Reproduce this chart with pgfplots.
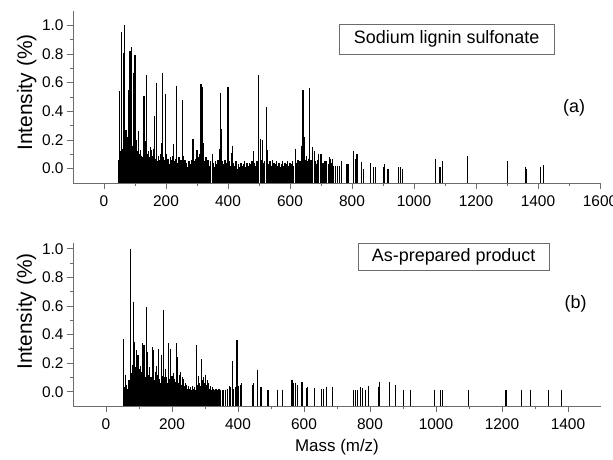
\documentclass[border=0pt]{standalone}
\usepackage{fontspec}
\setmainfont{Liberation Sans}
\usepackage{pgfplots}
\pgfplotsset{compat=1.18}

% each peak is drawn as a line from the bottom of the axis (-0.1) up to its intensity
\pgfplotsset{
  msaxis/.style={
    scale only axis, anchor=south west, clip=false,
    axis x line=bottom, axis y line=left,
    axis line style={-, draw=gray!85!black, line width=0.8bp},
    every tick/.style={draw=gray!85!black, line width=0.8bp},
    tick align=outside, major tick length=6bp, minor tick length=3bp,
    minor x tick num=1, minor y tick num=1,
    ytick={0,0.2,...,1.0}, ymin=-0.1,
    /pgf/number format/assume math mode=true,
    /pgf/number format/1000 sep={},
    tick label style={font=\fontsize{15.5}{17}\selectfont},
    xticklabel style={yshift=-3bp},
    yticklabel style={/pgf/number format/.cd, fixed, fixed zerofill, precision=1},
    ylabel={Intensity (\%)},
    ylabel style={font=\fontsize{21}{24}\selectfont, anchor=center},
  },
  peaks/.style={draw=none, mark=none, forget plot,
    error bars/.cd, y dir=minus, y explicit, error mark=none,
    error bar style={draw=black, line width=#1}},
}

\begin{document}
\begin{tikzpicture}
\useasboundingbox (0,0) rectangle (613bp,460bp);

% (a) sodium lignin sulfonate
\begin{axis}[msaxis, at={(73bp,277bp)}, width=527bp, height=172bp,
  xmin=-100, xmax=1600, ymax=1.1, xtick={0,200,...,1600},
  ylabel style={at={(axis description cs:-0.088,0.526)}}]
\addplot[peaks=1.5bp] table[row sep=\\, x=m, y=i, y error expr=\thisrow{i}+0.1] {
m i\\
48 0.06\\ 52 0.12\\ 55 0.10\\ 58 0.14\\ 61 0.08\\ 64 0.13\\ 68 0.11\\ 72 0.09\\ 74 0.15\\ 78 0.12\\
81 0.06\\ 85 0.13\\ 88 0.10\\ 91 0.16\\ 94 0.12\\ 98 0.09\\ 102 0.14\\ 105 0.07\\ 108 0.12\\ 111 0.05\\
114 0.10\\ 117 0.06\\ 120 0.09\\ 123 0.03\\ 126 0.08\\ 130 0.05\\ 134 0.11\\ 138 0.07\\ 141 0.10\\ 144 0.12\\
147 0.08\\ 150 0.11\\ 153 0.13\\ 156 0.09\\ 159 0.14\\ 162 0.10\\ 166 0.07\\ 170 0.11\\ 173 0.05\\ 176 0.09\\
180 0.06\\ 183 0.10\\ 187 0.04\\ 192 0.08\\ 195 0.06\\ 200 0.10\\ 203 0.05\\ 207 0.07\\ 210 0.03\\ 214 0.08\\
218 0.06\\ 221 0.09\\ 228 0.05\\ 231 0.07\\ 238 0.04\\ 242 0.08\\ 246 0.03\\ 249 0.06\\ 254 0.05\\ 259 0.02\\
262 0.06\\ 266 0.04\\ 270 0.01\\ 274 0.05\\ 278 0.03\\ 282 0.06\\ 285 0.02\\ 291 0.05\\ 295 0.07\\ 298 0.04\\
303 0.08\\ 306 0.06\\ 310 0.10\\ 316 0.09\\ 320 0.07\\ 325 0.05\\ 329 0.08\\ 332 0.03\\ 336 0.06\\ 340 0.02\\
344 0.05\\ 352 0.04\\ 356 0.01\\ 360 0.05\\ 364 0.03\\ 368 0.06\\ 382 0.05\\ 386 0.03\\ 390 0.06\\ 394 0.02\\
397 0.04\\ 404 0.05\\ 407 0.02\\ 413 0.06\\ 418 0.04\\ 422 0.02\\ 426 0.05\\ 430 0.00\\ 434 0.03\\ 438 0.01\\
442 0.04\\ 446 0.02\\ 450 0.03\\ 454 0.05\\ 458 0.01\\ 462 0.04\\ 466 0.02\\ 470 0.04\\ 474 0.03\\ 478 0.05\\
485 0.04\\ 489 0.02\\ 493 0.05\\ 496 0.03\\ 507 0.06\\ 514 0.04\\ 518 0.05\\ 532 0.03\\ 536 0.05\\ 540 0.02\\
544 0.06\\ 548 0.04\\ 552 0.03\\ 556 0.05\\ 560 0.02\\ 564 0.04\\ 568 0.01\\ 572 0.03\\ 576 0.05\\ 580 0.02\\
584 0.04\\ 588 0.03\\ 592 0.05\\ 596 0.02\\ 600 0.04\\ 604 0.03\\ 608 0.05\\ 612 0.02\\ 621 0.04\\ 625 0.06\\
629 0.03\\ 633 0.05\\ 640 0.08\\ 650 0.06\\ 653 0.09\\ 656 0.05\\ 659 0.07\\ 667 0.06\\ 670 0.04\\ 683 0.05\\
686 0.03\\ 690 0.06\\ 707 0.04\\ 714 0.03\\ 724 0.03\\ 735 0.04\\ 740 0.02\\
};
\addplot[peaks=1.1bp] table[row sep=\\, x=m, y=i, y error expr=\thisrow{i}+0.1] {
m i\\
50 0.54\\ 56 0.95\\ 64 0.81\\ 67 1.00\\ 71 0.27\\ 76 0.22\\ 79 0.55\\ 84 0.82\\ 89 0.85\\ 95 0.67\\
97 0.52\\ 100 0.79\\ 106 0.20\\ 112 0.26\\ 118 0.13\\ 129 0.51\\ 133 0.19\\ 137 0.65\\ 150 0.15\\ 164 0.37\\
168 0.60\\ 186 0.18\\ 190 0.67\\ 198 0.52\\ 225 0.17\\ 234 0.58\\ 252 0.48\\ 256 0.09\\ 287 0.21\\ 300 0.13\\
313 0.59\\ 318 0.57\\ 322 0.18\\ 349 0.10\\ 372 0.14\\ 375 0.53\\ 379 0.28\\ 400 0.57\\ 410 0.11\\ 415 0.16\\
481 0.12\\ 499 0.65\\ 504 0.21\\ 510 0.20\\ 523 0.43\\ 528 0.13\\ 617 0.14\\ 637 0.16\\ 642 0.55\\ 644 0.29\\
647 0.22\\ 663 0.56\\ 674 0.15\\ 679 0.12\\ 693 0.10\\ 697 0.10\\ 701 0.10\\ 711 0.056\\ 716 0.056\\ 727 0.08\\
732 0.07\\ 738 0.07\\ 747 0.02\\ 754 0.02\\ 760 0.02\\ 767 0.056\\ 784 0.03\\ 790 0.03\\ 806 0.126\\ 812 0.07\\
816 0.10\\ 832 0.045\\ 836 0.00\\ 860 0.037\\ 868 0.01\\ 877 0.01\\ 902 0.01\\ 906 0.03\\ 916 0.00\\ 949 0.01\\
955 0.01\\ 964 0.00\\ 1069 0.07\\ 1084 0.01\\ 1092 0.055\\ 1174 0.09\\ 1303 0.05\\ 1360 0.015\\ 1363 0.00\\ 1408 0.015\\
1417 0.025\\
};
\node[draw=gray!85!black, line width=0.8bp, minimum width=215bp, minimum height=30bp, inner sep=0pt,
  font=\fontsize{18}{20}\selectfont] at (axis description cs:0.709,0.836) {Sodium lignin sulfonate};
\node[font=\fontsize{18}{20}\selectfont] at (axis description cs:0.951,0.436) {(a)};
\end{axis}

% (b) as-prepared product
\begin{axis}[msaxis, at={(73bp,54bp)}, width=528bp, height=163bp,
  xmin=-100, xmax=1500, ymax=1.04, xtick={0,200,...,1400},
  ylabel style={at={(axis description cs:-0.088,0.58)}},
  xlabel={Mass (m/z)},
  xlabel style={font=\fontsize{17}{20}\selectfont, anchor=center, at={(axis description cs:0.50,-0.25)}}]
\addplot[peaks=1.5bp] table[row sep=\\, x=m, y=i, y error expr=\thisrow{i}+0.1] {
m i\\
56 0.03\\ 60 0.05\\ 62 0.02\\ 66 0.01\\ 70 0.08\\ 72 0.05\\ 76 0.10\\ 79 0.07\\ 82 0.15\\ 85 0.12\\
89 0.09\\ 91 0.17\\ 94 0.11\\ 96 0.08\\ 99 0.13\\ 103 0.10\\ 107 0.06\\ 109 0.14\\ 112 0.09\\ 114 0.12\\
117 0.07\\ 120 0.10\\ 124 0.12\\ 126 0.06\\ 129 0.09\\ 131 0.12\\ 135 0.07\\ 137 0.10\\ 139 0.05\\ 142 0.11\\
147 0.08\\ 151 0.10\\ 155 0.06\\ 157 0.12\\ 162 0.09\\ 164 0.06\\ 169 0.11\\ 171 0.07\\ 176 0.10\\ 178 0.05\\
182 0.08\\ 186 0.06\\ 191 0.09\\ 193 0.05\\ 198 0.08\\ 202 0.06\\ 206 0.09\\ 209 0.05\\ 211 0.07\\ 215 0.10\\
220 0.06\\ 224 0.08\\ 228 0.05\\ 233 0.07\\ 238 0.04\\ 244 0.05\\ 247 0.02\\ 250 0.04\\ 253 0.02\\ 256 0.03\\
259 0.01\\ 262 0.04\\ 265 0.02\\ 268 0.03\\ 271 0.01\\ 277 0.05\\ 279 0.03\\ 284 0.06\\ 286 0.04\\ 292 0.05\\
294 0.08\\ 299 0.06\\ 304 0.05\\ 309 0.03\\ 314 0.02\\ 317 0.04\\ 320 0.01\\ 323 0.03\\ 326 0.02\\ 330 0.01\\
334 0.02\\ 338 0.01\\ 342 0.02\\ 346 0.01\\ 355 0.01\\ 362 0.01\\ 368 0.02\\ 378 0.03\\ 387 0.02\\ 392 0.03\\
};
\addplot[peaks=1.1bp] table[row sep=\\, x=m, y=i, y error expr=\thisrow{i}+0.1] {
m i\\
52 0.06\\ 54 0.37\\ 59 0.12\\ 64 0.02\\ 74 1.00\\ 77 0.13\\ 80 0.19\\ 83 0.63\\ 87 0.35\\ 92 0.29\\
97 0.26\\ 101 0.16\\ 105 0.18\\ 110 0.34\\ 115 0.33\\ 118 0.20\\ 122 0.59\\ 127 0.28\\ 133 0.17\\ 140 0.31\\
145 0.29\\ 149 0.14\\ 153 0.18\\ 160 0.30\\ 167 0.26\\ 173 0.57\\ 180 0.16\\ 184 0.10\\ 189 0.34\\ 196 0.30\\
200 0.11\\ 204 0.13\\ 213 0.34\\ 218 0.24\\ 222 0.12\\ 226 0.14\\ 231 0.10\\ 236 0.09\\ 241 0.06\\ 274 0.325\\
281 0.11\\ 289 0.23\\ 296 0.10\\ 302 0.12\\ 307 0.08\\ 311 0.06\\ 373 0.04\\ 383 0.215\\ 397 0.36\\ 402 0.04\\
407 0.05\\ 410 0.06\\ 445 0.05\\ 448 0.06\\ 460 0.155\\ 468 0.03\\ 471 0.03\\ 491 0.015\\ 521 0.015\\ 535 0.015\\
561 0.08\\ 565 0.085\\ 568 0.06\\ 574 0.06\\ 581 0.05\\ 594 0.07\\ 607 0.025\\ 611 0.035\\ 631 0.025\\ 654 0.02\\
659 0.02\\ 669 0.035\\ 687 0.035\\ 750 0.012\\ 755 0.012\\ 761 0.012\\ 771 0.03\\ 777 0.025\\ 786 0.012\\ 795 0.04\\
827 0.035\\ 829 0.07\\ 859 0.065\\ 877 0.047\\ 902 0.012\\ 922 0.012\\ 996 0.015\\ 1013 0.012\\ 1021 0.012\\ 1098 0.012\\
1212 0.015\\ 1260 0.015\\ 1287 0.015\\ 1341 0.012\\ 1381 0.015\\
};
\node[draw=gray!85!black, line width=0.8bp, minimum width=191bp, minimum height=27bp, inner sep=0pt,
  font=\fontsize{18}{20}\selectfont] at (axis description cs:0.721,0.912) {As-prepared product};
\node[font=\fontsize{18}{20}\selectfont] at (axis description cs:0.952,0.626) {(b)};
\end{axis}
\end{tikzpicture}
\end{document}
